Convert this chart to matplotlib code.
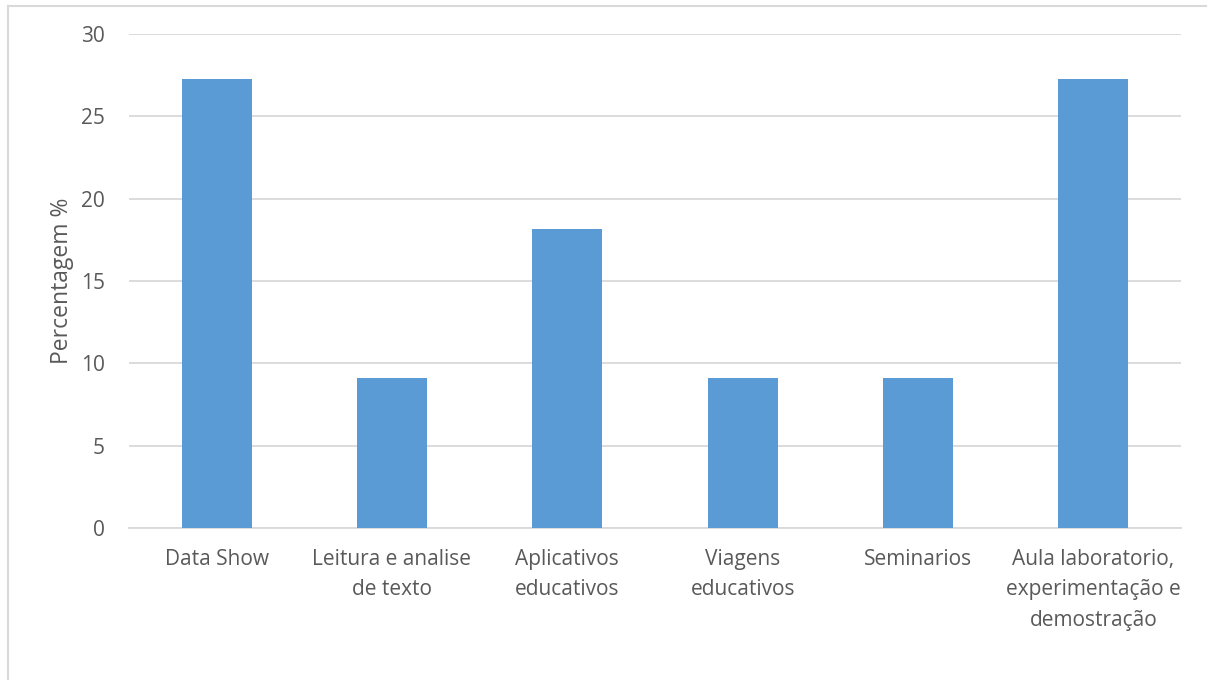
import matplotlib
matplotlib.use("Agg")
import matplotlib.pyplot as plt
from matplotlib.lines import Line2D

categories = [
    "Data Show",
    "Leitura e analise\nde texto",
    "Aplicativos\neducativos",
    "Viagens\neducativos",
    "Seminarios",
    "Aula laboratorio,\nexperimentação e\ndemostração",
]
percentages = [27.27, 9.09, 18.18, 9.09, 9.09, 27.27]
y_ticks = [0, 5, 10, 15, 20, 25, 30]

text_color = "#595959"
grid_color = "#d9d9d9"
bar_color = "#5b9bd5"

plt.rcParams["font.family"] = ["Open Sans", "DejaVu Sans"]

fig = plt.figure(figsize=(12.07, 6.80), dpi=100)
ax = fig.add_axes([129 / 1207, 1 - 528 / 680, (1181 - 129) / 1207, (528 - 34) / 680])

x = list(range(len(categories)))
ax.bar(x, percentages, width=0.40, color=bar_color, zorder=3)

ax.set_xlim(-0.5, len(categories) - 0.5)
ax.set_ylim(0, 30)
ax.set_yticks(y_ticks)
ax.set_yticklabels([str(t) for t in y_ticks])
ax.set_xticks(x)
ax.set_xticklabels(categories, linespacing=1.6)

ax.yaxis.grid(True, color=grid_color, linewidth=1.3, zorder=0)
ax.xaxis.grid(False)
for side in ["top", "right", "left"]:
    ax.spines[side].set_visible(False)
ax.spines["bottom"].set_color(grid_color)
ax.spines["bottom"].set_linewidth(1.3)

ax.tick_params(axis="both", length=0, labelsize=15, colors=text_color)
ax.tick_params(axis="y", pad=17.5)
ax.tick_params(axis="x", pad=15)
ax.set_ylabel("Percentagem %", fontsize=16.5, color=text_color, labelpad=4.5)

# chart frame along the left and top edges
fig.add_artist(Line2D([7.5 / 1207, 7.5 / 1207], [0, 1 - 6 / 680],
                      transform=fig.transFigure, color=grid_color, linewidth=1.5))
fig.add_artist(Line2D([7.5 / 1207, 1], [1 - 6 / 680, 1 - 6 / 680],
                      transform=fig.transFigure, color=grid_color, linewidth=1.5))

fig.savefig("out.png", dpi=100)
